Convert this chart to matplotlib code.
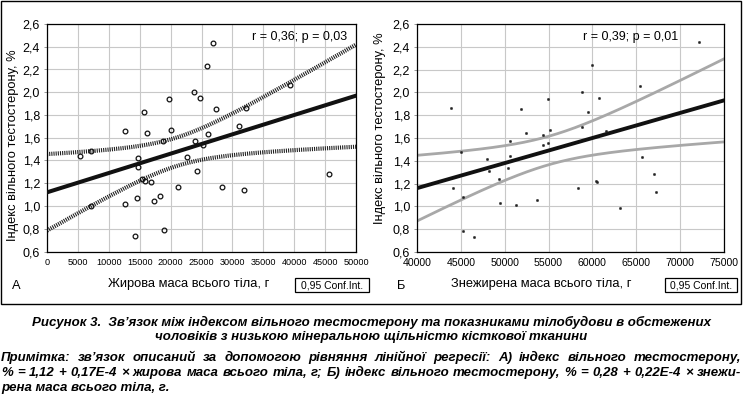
import numpy as np
import matplotlib
matplotlib.use("Agg")
import matplotlib.pyplot as plt
from matplotlib.patches import Rectangle
from matplotlib.ticker import FuncFormatter, MultipleLocator

# ---------------- data ----------------
fat_mass = [5300, 7100, 7200, 12700, 12700, 14300, 14500, 14700, 14800, 15400,
            15700, 15800, 16200, 16900, 17300, 18300, 18700, 18900, 19700, 20100,
            21200, 22700, 23800, 24000, 24200, 24800, 25200, 25900, 26000, 26900,
            27300, 28300, 31100, 31900, 32200, 39300, 45700]
fti_a = [1.44, 1.48, 1.00, 1.66, 1.02, 0.74, 1.07, 1.42, 1.345, 1.24,
         1.83, 1.22, 1.64, 1.21, 1.04, 1.09, 1.57, 0.79, 1.94, 1.67,
         1.17, 1.43, 2.00, 1.57, 1.31, 1.95, 1.54, 2.23, 1.63, 2.43,
         1.85, 1.17, 1.70, 1.14, 1.86, 2.06, 1.28]

lean_mass = [43900, 44100, 45000, 45200, 45300, 46500, 48000, 48200, 49300, 49500,
             50400, 50600, 50600, 51300, 51800, 52400, 53700, 54400, 54400, 54900,
             54900, 55200, 58400, 58800, 58800, 59500, 59900, 60400, 60500, 60700,
             61600, 63100, 65400, 65600, 67000, 67200, 72200]
fti_b = [1.86, 1.16, 1.48, 1.08, 0.78, 0.73, 1.42, 1.31, 1.24, 1.03,
         1.34, 1.57, 1.44, 1.01, 1.85, 1.64, 1.06, 1.63, 1.54, 1.94,
         1.56, 1.67, 1.16, 2.00, 1.70, 1.83, 2.24, 1.22, 1.21, 1.95,
         1.66, 0.99, 2.06, 1.43, 1.28, 1.13, 2.44]

coef_a = [1.12, 0.17e-4]   # intercept, slope (from caption)
coef_b = [0.28, 0.22e-4]
stats_a = "r = 0,36; p = 0,03"
stats_b = "r = 0,39; p = 0,01"
T_CRIT = 2.03  # t(0.975, df=35)

W, H = 743, 398
plt.rcParams['font.family'] = ['Liberation Sans', 'DejaVu Sans']
fig = plt.figure(figsize=(W / 100, H / 100), dpi=100)


def fx(px):
    return px / W


def fy(py):
    return 1 - py / H


def conf_band(x, y, coef, grid):
    x = np.asarray(x, float)
    y = np.asarray(y, float)
    n = len(x)
    resid = y - (coef[0] + coef[1] * x)
    s = np.sqrt(np.sum(resid ** 2) / (n - 2))
    sxx = np.sum((x - x.mean()) ** 2)
    fit = coef[0] + coef[1] * grid
    hw = T_CRIT * s * np.sqrt(1 / n + (grid - x.mean()) ** 2 / sxx)
    return fit, fit - hw, fit + hw


def make_axes(left, right, top, bottom):
    return fig.add_axes([fx(left), fy(bottom), fx(right) - fx(left), fy(top) - fy(bottom)])


def style_axes(ax, xlim, xstep, xsize, xpad):
    ax.set_xlim(*xlim)
    ax.set_ylim(0.6, 2.6)
    ax.xaxis.set_major_locator(MultipleLocator(xstep))
    ax.yaxis.set_major_locator(MultipleLocator(0.2))
    ax.yaxis.set_major_formatter(FuncFormatter(lambda v, p: f"{v:.1f}".replace(".", ",")))
    ax.xaxis.set_major_formatter(FuncFormatter(lambda v, p: f"{int(round(v))}"))
    ax.grid(True, color='#c8c8c8', lw=0.8)
    ax.set_axisbelow(True)
    ax.tick_params(axis='y', labelsize=9, pad=3, length=2, width=0.6, color='#888888')
    ax.tick_params(axis='x', labelsize=xsize, pad=xpad, length=0)
    for sp in ax.spines.values():
        sp.set_linewidth(0.9)
        sp.set_color('black')


# ---------------- panel A ----------------
axA = make_axes(47, 356, 24, 251.5)
style_axes(axA, (0, 50000), 5000, 6.6, 4.5)
gA = np.linspace(0, 50000, 300)
fitA, loA, hiA = conf_band(fat_mass, fti_a, coef_a, gA)
axA.plot(gA, loA, color='#202020', lw=3.0, ls=(0, (0.26, 0.26)), zorder=2)
axA.plot(gA, hiA, color='#202020', lw=3.0, ls=(0, (0.26, 0.26)), zorder=2)
axA.plot(gA, fitA, color='#111111', lw=2.9, zorder=3)
axA.plot(fat_mass, fti_a, ls='none', marker='o', ms=3.4, mfc='none', mec='#111111', mew=0.9, zorder=4)
axA.text(0.97, 0.945, stats_a, transform=axA.transAxes, ha='right', va='center', fontsize=9)

# ---------------- panel B ----------------
axB = make_axes(417, 724, 24, 252)
style_axes(axB, (40000, 75000), 5000, 7.6, 4.5)
gB = np.linspace(40000, 75000, 300)
fitB, loB, hiB = conf_band(lean_mass, fti_b, coef_b, gB)
axB.plot(gB, loB, color='#a8a8a8', lw=2.0, zorder=2)
axB.plot(gB, hiB, color='#a8a8a8', lw=2.0, zorder=2)
axB.plot(gB, fitB, color='#111111', lw=2.8, zorder=3)
axB.plot(lean_mass, fti_b, ls='none', marker='o', ms=1.7, mfc='#222222', mec='#222222', mew=0.3, zorder=4)
axB.text(0.85, 0.945, stats_b, transform=axB.transAxes, ha='right', va='center', fontsize=9)

# ---------------- labels ----------------
ylab = "Індекс вільного тестостерону, %"
fig.text(fx(13), fy(145), ylab, rotation=90, ha='center', va='center', fontsize=9.3)
fig.text(fx(380), fy(128), ylab, rotation=90, ha='center', va='center', fontsize=9.3)
fig.text(fx(189), fy(284), "Жирова маса всього тіла, г", ha='center', va='center', fontsize=9.3)
fig.text(fx(541), fy(284), "Знежирена маса всього тіла, г", ha='center', va='center', fontsize=9.3)
fig.text(fx(16), fy(286), "А", ha='center', va='center', fontsize=9.3)
fig.text(fx(401), fy(286), "Б", ha='center', va='center', fontsize=9.3)

for (x0, x1) in [(295, 369), (665, 737)]:
    fig.patches.append(Rectangle((fx(x0), fy(292)), fx(x1) - fx(x0), fy(278) - fy(292),
                                 transform=fig.transFigure, fill=False, lw=0.9, ec='black'))
    fig.text(fx((x0 + x1) / 2), fy(285), "0,95 Conf.Int.", ha='center', va='center', fontsize=7.5)

# outer frame
fig.patches.append(Rectangle((fx(1), fy(304)), fx(741) - fx(1), fy(1) - fy(304),
                             transform=fig.transFigure, fill=False, lw=1.0, ec='black'))

# ---------------- caption ----------------
cap_kw = dict(fontweight='bold', fontstyle='italic')
renderer = fig.canvas.get_renderer()

line1 = "Рисунок 3.  Зв’язок між індексом вільного тестостерону та показниками тілобудови в обстежених"
line2 = "чоловіків з низькою мінеральною щільністю кісткової тканини"
line3 = "Примітка: зв’язок описаний за допомогою рівняння лінійної регресії: А) індекс вільного тестостерону,"
line4 = "% = 1,12 + 0,17Е-4 × жирова маса всього тіла, г; Б) індекс вільного тестостерону, % = 0,28 + 0,22Е-4 × знежи-"
line5 = "рена маса всього тіла, г."


def fitted_center(text, yc, target_w):
    t = fig.text(fx(371.5), fy(yc), text, ha='center', va='center', fontsize=9, **cap_kw)
    w = t.get_window_extent(renderer).width
    t.set_fontsize(9 * target_w / w)
    return t


def justify(text, yc, x0, x1, size):
    words = text.split(" ")
    ts = [fig.text(0, fy(yc), wd, ha='left', va='center', fontsize=size, **cap_kw) for wd in words]
    ws = [t.get_window_extent(renderer).width for t in ts]
    gap = (x1 - x0 - sum(ws)) / (len(ws) - 1)
    x = x0
    for t, w in zip(ts, ws):
        t.set_x(fx(x))
        x += w + gap


t1 = fitted_center(line1, 322, 679)
size_cap = t1.get_fontsize()
fig.text(fx(371.5), fy(337), line2, ha='center', va='center', fontsize=size_cap, **cap_kw)
justify(line3, 358, 1, 741, size_cap)
justify(line4, 373, 1, 741, size_cap)
fig.text(fx(1), fy(388), line5, ha='left', va='center', fontsize=size_cap, **cap_kw)

fig.savefig("out.png", dpi=100)
